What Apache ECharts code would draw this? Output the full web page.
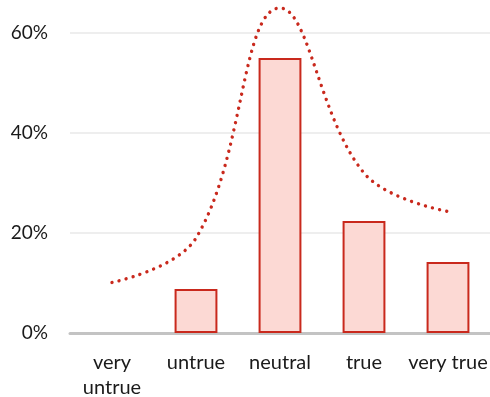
<!DOCTYPE html>
<html>
<head>
<meta charset="utf-8">
<style>
  html, body { margin: 0; padding: 0; background: #ffffff; }
  #chart { width: 490px; height: 397px; }
</style>
<script src="https://cdn.jsdelivr.net/npm/echarts@6/dist/echarts.min.js"></script>
</head>
<body>
<div id="chart"></div>
<script>
// Answer categories along the x axis
const categories = ['very\nuntrue', 'untrue', 'neutral', 'true', 'very true'];
// Observed share of responses (%), drawn as bars
const observed = [0, 8.8, 55, 22.4, 14.2];
// Fitted reference curve (%), drawn as a dotted smooth line
const fitted = [10.1, 19, 65, 32, 24.3];
// Value axis ticks (%)
const yTicks = { min: 0, max: 60, interval: 20 };

const RED = '#c9291d';
const FONT = 'Lato, "Open Sans", sans-serif';

// An empty category gets no outline, so nothing is drawn on the baseline
const barData = observed.map(v => (v === 0 ? { value: v, itemStyle: { borderWidth: 0 } } : v));

const chart = echarts.init(document.getElementById('chart'), null, { renderer: 'canvas' });
chart.setOption({
  animation: false,
  backgroundColor: '#ffffff',
  grid: {
    left: 70, right: 0, top: 33, bottom: 64,
    containLabel: false,
    outerBoundsMode: 'none'
  },
  xAxis: {
    type: 'category',
    data: categories,
    boundaryGap: true,
    axisLine: { show: true, lineStyle: { color: '#c3c3c3', width: 3 } },
    axisTick: { show: false },
    axisLabel: {
      color: '#1a1a1a',
      fontFamily: FONT,
      fontSize: 20,
      lineHeight: 25,
      margin: 17,
      interval: 0
    }
  },
  yAxis: {
    type: 'value',
    min: yTicks.min,
    max: yTicks.max,
    interval: yTicks.interval,
    axisLine: { show: false },
    axisTick: { show: false },
    splitLine: { show: true, lineStyle: { color: '#eeeeee', width: 2 } },
    axisLabel: {
      color: '#1a1a1a',
      fontFamily: FONT,
      fontSize: 19,
      margin: 22,
      formatter: '{value}%'
    }
  },
  series: [
    {
      type: 'bar',
      data: barData,
      barWidth: '51%',
      itemStyle: { color: '#fcd9d4', borderColor: RED, borderWidth: 2 },
      z: 2
    },
    {
      type: 'line',
      data: fitted,
      smooth: 0.4,
      clip: false,
      symbol: 'none',
      lineStyle: { color: RED, width: 3.4, type: [0.01, 7.3], cap: 'round' },
      z: 3
    }
  ]
});
</script>
</body>
</html>
